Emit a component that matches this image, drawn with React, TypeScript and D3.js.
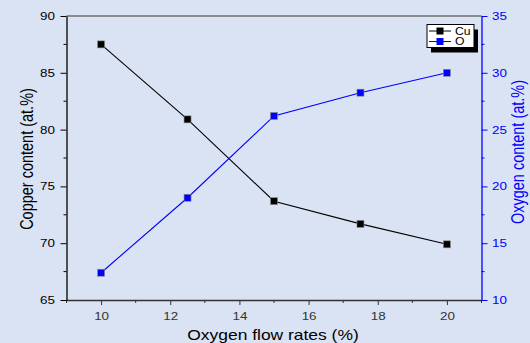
import React, { useRef, useEffect } from 'react';
import { select, scaleLinear, axisBottom, axisLeft, axisRight, line, range } from 'd3';

const flowRates = [10, 12.5, 15, 17.5, 20];
const copperValues = [87.5, 80.9, 73.7, 71.7, 69.9];
const oxygenValues = [12.4, 19.0, 26.2, 28.25, 30.0];
const xTicks = [10, 12, 14, 16, 18, 20];
const leftTicks = [65, 70, 75, 80, 85, 90];
const rightTicks = [10, 15, 20, 25, 30, 35];
const seriesNames = ['Cu', 'O'];

const W = 530;
const H = 343;
const BG = '#dae3f3';
const FONT = '"Liberation Sans", Arial, sans-serif';
const SX = 1.22; // the picture's text is a bit wider than tall

export default function App() {
    const svgRef = useRef<SVGSVGElement | null>(null);

    useEffect(() => {
        const svg = select(svgRef.current as any);
        svg.selectAll('*').remove();

        const left = 66.5;
        const right = 481.5;
        const top = 16;
        const bottom = 300;

        const x = scaleLinear().domain([9, 21]).range([left, right]);
        const yCu = scaleLinear().domain([65, 90]).range([bottom, top]);
        const yO = scaleLinear().domain([10, 35]).range([bottom, top]);

        svg.append('rect').attr('width', W).attr('height', H).attr('fill', BG);

        // top frame
        svg.append('line')
            .attr('x1', left).attr('x2', right)
            .attr('y1', top).attr('y2', top)
            .attr('stroke', '#6e6e6e').attr('stroke-width', 1.5);

        // minor ticks
        const minor = (g: any, vals: number[], fn: (v: number) => number, dir: string, color: string) => {
            vals.forEach((v) => {
                const p = fn(v);
                const l = g.append('line').attr('stroke', color);
                if (dir === 'left') l.attr('x1', left).attr('x2', left - 3).attr('y1', p).attr('y2', p);
                if (dir === 'right') l.attr('x1', right).attr('x2', right + 3).attr('y1', p).attr('y2', p);
                if (dir === 'bottom') l.attr('x1', p).attr('x2', p).attr('y1', bottom).attr('y2', bottom + 3);
            });
        };
        const minorG = svg.append('g');
        minor(minorG, range(67.5, 90, 5), yCu, 'left', '#000');
        minor(minorG, range(12.5, 35, 5), yO, 'right', '#0000ff');
        minor(minorG, [9, 11, 13, 15, 17, 19, 21], x, 'bottom', '#333');

        const styleAxis = (g: any, color: string) => {
            g.selectAll('path').attr('stroke', color).attr('stroke-width', 1.3);
            g.selectAll('line').attr('stroke', color);
            g.selectAll('text').attr('fill', color).style('font-family', FONT).style('font-size', '11px');
        };

        const xAxis: any = axisBottom(x).tickValues(xTicks).tickSize(5).tickSizeOuter(0);
        svg.append('g').attr('transform', `translate(0,${bottom})`).call(xAxis)
            .call((g: any) => styleAxis(g, '#333'))
            .call((g: any) => g.selectAll('text')
                .attr('y', 0).attr('dy', 0)
                .attr('transform', `translate(0,20) scale(${SX},1)`));

        const lAxis: any = axisLeft(yCu).tickValues(leftTicks).tickSize(6).tickSizeOuter(0);
        svg.append('g').attr('transform', `translate(${left},0)`).call(lAxis)
            .call((g: any) => styleAxis(g, '#000'))
            .call((g: any) => g.selectAll('text')
                .attr('x', 0)
                .attr('transform', `translate(-11.5,0) scale(${SX},1)`));

        const rAxis: any = axisRight(yO).tickValues(rightTicks).tickSize(6).tickSizeOuter(0);
        svg.append('g').attr('transform', `translate(${right},0)`).call(rAxis)
            .call((g: any) => styleAxis(g, '#0000ff'))
            .call((g: any) => g.selectAll('text')
                .attr('x', 0)
                .attr('transform', `translate(10.5,0) scale(${SX},1)`));

        // axis titles
        svg.append('text')
            .attr('transform', `translate(33,${(top + bottom) / 2 + 1}) scale(${SX},1) rotate(-90)`)
            .attr('text-anchor', 'middle')
            .style('font-family', FONT).style('font-size', '14.5px')
            .attr('fill', '#000')
            .text('Copper content (at.%)');
        svg.append('text')
            .attr('transform', `translate(524,${(top + bottom) / 2 - 6}) scale(${SX},1) rotate(-90)`)
            .attr('text-anchor', 'middle')
            .style('font-family', FONT).style('font-size', '14.5px')
            .attr('fill', '#0000ff')
            .text('Oxygen content (at.%)');
        svg.append('text')
            .attr('transform', `translate(${(left + right) / 2 - 1},339.5) scale(${SX},1)`)
            .attr('text-anchor', 'middle')
            .style('font-family', FONT).style('font-size', '14.3px')
            .attr('fill', '#000')
            .text('Oxygen flow rates (%)');

        const series = [
            { name: seriesNames[0], values: copperValues, y: yCu, color: '#000000' },
            { name: seriesNames[1], values: oxygenValues, y: yO, color: '#0000ff' },
        ];

        series.forEach((s) => {
            const pts: [number, number][] = flowRates.map((f, i) => [x(f), s.y(s.values[i])]);
            svg.append('path')
                .attr('d', line()(pts) as string)
                .attr('fill', 'none')
                .attr('stroke', s.color)
                .attr('stroke-width', 1.1);
            svg.append('g')
                .selectAll('rect')
                .data(pts)
                .join('rect')
                .attr('x', (d) => d[0] - 3.5)
                .attr('y', (d) => d[1] - 3.5)
                .attr('width', 7)
                .attr('height', 7)
                .attr('fill', s.color)
                .attr('stroke', '#8a8a8a')
                .attr('stroke-width', 0.6);
        });

        // legend
        const lx = 427;
        const ly = 24.5;
        const lw = 47;
        const lh = 23;
        const legend = svg.append('g');
        legend.append('rect').attr('x', lx + 4).attr('y', ly + 5).attr('width', lw).attr('height', lh).attr('fill', '#000');
        legend.append('rect').attr('x', lx).attr('y', ly).attr('width', lw).attr('height', lh)
            .attr('fill', '#fff').attr('stroke', '#000').attr('stroke-width', 1);
        series.forEach((s, i) => {
            const cy = ly + 6.5 + i * 10.5;
            legend.append('line').attr('x1', lx + 2).attr('x2', lx + 24).attr('y1', cy).attr('y2', cy)
                .attr('stroke', s.color).attr('stroke-width', 1);
            legend.append('rect').attr('x', lx + 9.5).attr('y', cy - 3.5).attr('width', 7).attr('height', 7)
                .attr('fill', s.color);
            legend.append('text')
                .attr('transform', `translate(${lx + 28},${cy + 3.5}) scale(${SX},1)`)
                .style('font-family', FONT).style('font-size', '10px')
                .attr('fill', '#000')
                .text(s.name);
        });
    }, []);

    return (
        <svg ref={svgRef} width={W} height={H} style={{ position: 'absolute', left: 0, top: 0, display: 'block' }} />
    );
}
